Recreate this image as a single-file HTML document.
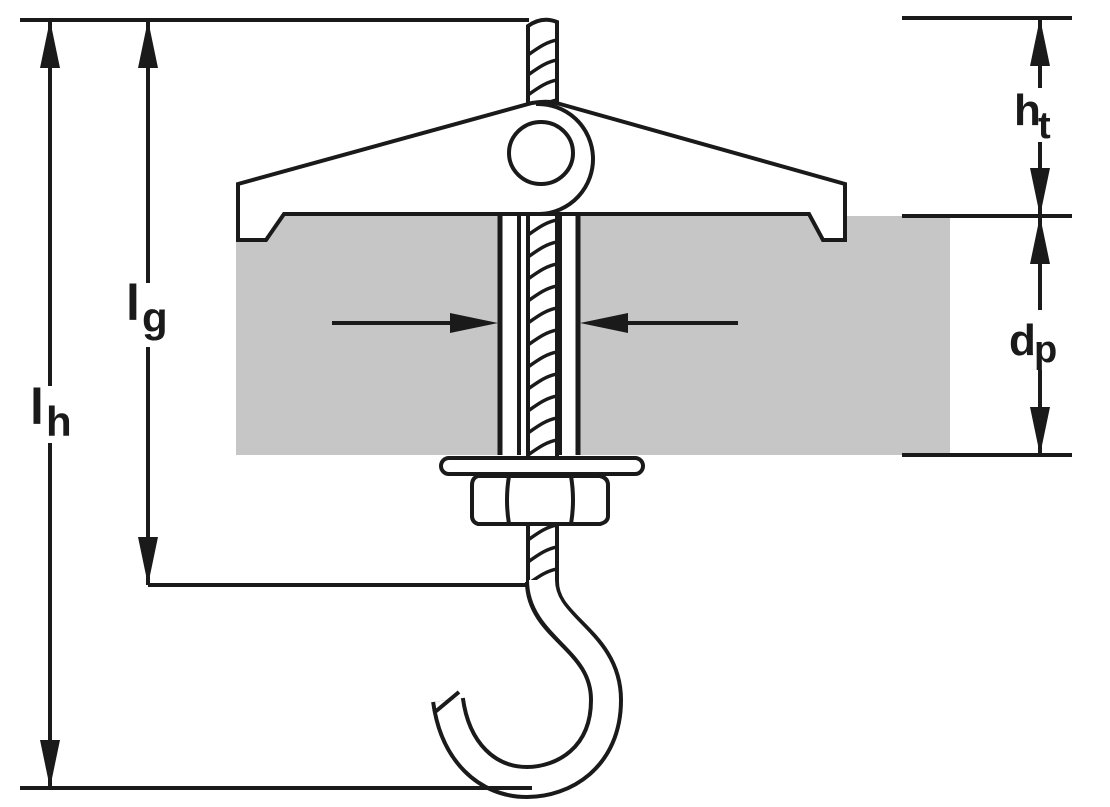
<!DOCTYPE html>
<html><head><meta charset="utf-8"><style>html,body{margin:0;padding:0;background:#fff}svg{display:block}</style></head>
<body>
<svg width="1110" height="807" viewBox="0 0 1110 807" xmlns="http://www.w3.org/2000/svg" font-family="'Liberation Sans',sans-serif" font-weight="bold">
<defs>
<clipPath id="rc"><rect x="529" y="0" width="28" height="800"/></clipPath>
</defs>
<!-- gray plate -->
<rect x="236" y="216" width="714" height="239" fill="#c6c6c6"/>
<!-- sleeve hole -->
<rect x="500" y="214" width="78" height="241" fill="#fff" stroke="#1a1a1a" stroke-width="0"/>
<line x1="500" y1="214" x2="500" y2="455" stroke="#1a1a1a" stroke-width="5"/>
<line x1="578" y1="214" x2="578" y2="455" stroke="#1a1a1a" stroke-width="5"/>
<line x1="519" y1="214" x2="519" y2="455" stroke="#1a1a1a" stroke-width="4"/>
<line x1="560" y1="214" x2="560" y2="455" stroke="#1a1a1a" stroke-width="4"/>
<!-- rod -->
<path d="M528,585 L528,26 Q542,16 557,22 L557,585 Z" fill="#fff" stroke="#1a1a1a" stroke-width="4"/>
<g clip-path="url(#rc)" stroke="#1a1a1a" stroke-width="3.5" fill="none">
<path d="M528,55 C538,48 546,42 557,40 M528,75 C538,68 546,62 557,60 M528,95 C538,88 546,82 557,80 M528,115 C538,108 546,102 557,100
M528,235 C538,228 546,222 557,220 M528,257 C538,250 546,244 557,242 M528,279 C538,272 546,266 557,264 M528,301 C538,294 546,288 557,286 M528,323 C538,316 546,310 557,308 M528,345 C538,338 546,332 557,330 M528,367 C538,360 546,354 557,352 M528,389 C538,382 546,376 557,374 M528,411 C538,404 546,398 557,396 M528,433 C538,426 546,420 557,418 M528,455 C538,448 546,442 557,440
M528,540 C538,533 546,527 557,525 M528,562 C538,555 546,549 557,547 M528,584 C538,577 546,571 557,569"/>
</g>
<!-- toggle wing -->
<path d="M238,184 L532,103 Q548,100 560,104 L845,184 L845,240 L823,240 L809,214 L284,214 L266,240 L238,240 Z" fill="#fff" stroke="#1a1a1a" stroke-width="4" stroke-linejoin="miter"/>
<path d="M536,104 A55,55 0 0 1 540,214" fill="none" stroke="#1a1a1a" stroke-width="4"/>
<ellipse cx="541" cy="153" rx="32" ry="31" fill="#fff" stroke="#1a1a1a" stroke-width="4"/>
<!-- washer -->
<rect x="441" y="458" width="202" height="16" rx="8" fill="#fff" stroke="#1a1a1a" stroke-width="4"/>
<!-- nut -->
<path d="M478,476 L600,476 Q608,478 608,485 L608,516 Q608,522 600,524 L478,524 Q472,522 472,516 L472,485 Q472,478 478,476 Z" fill="#fff" stroke="#1a1a1a" stroke-width="4"/>
<path d="M509,476 Q505,500 509,524 M571,476 Q575,500 571,524" fill="none" stroke="#1a1a1a" stroke-width="4"/>
<!-- hook -->
<path d="M542,582 C542,628 606,640 606,700 C606,758 563,782 527,782 C487,782 455,752 448,700" fill="none" stroke="#1a1a1a" stroke-width="34"/>
<path d="M542,580 C542,628 606,640 606,700 C606,758 563,782 527,782 C487,782 455,752 448,700" fill="none" stroke="#fff" stroke-width="26"/>
<path d="M435,712 L459,692" stroke="#1a1a1a" stroke-width="4"/>
<!-- dimension lines -->
<g stroke="#1a1a1a" stroke-width="4" fill="none">
<line x1="20" y1="20" x2="529" y2="20"/>
<line x1="20" y1="788" x2="532" y2="788"/>
<line x1="50" y1="20" x2="50" y2="386"/>
<line x1="50" y1="443" x2="50" y2="788"/>
<line x1="148" y1="20" x2="148" y2="283"/>
<line x1="148" y1="347" x2="148" y2="585"/>
<line x1="148" y1="585" x2="529" y2="585"/>
<line x1="902" y1="18" x2="1072" y2="18"/>
<line x1="902" y1="216" x2="1072" y2="216"/>
<line x1="902" y1="455" x2="1072" y2="455"/>
<line x1="1040" y1="18" x2="1040" y2="88"/>
<line x1="1040" y1="142" x2="1040" y2="216"/>
<line x1="1040" y1="216" x2="1040" y2="310"/>
<line x1="1040" y1="370" x2="1040" y2="455"/>
<line x1="332" y1="323" x2="470" y2="323"/>
<line x1="610" y1="323" x2="738" y2="323"/>
</g>
<g fill="#1a1a1a">
<path d="M50,20 L40,68 L60,68 Z"/><path d="M50,788 L40,740 L60,740 Z"/>
<path d="M148,20 L138,68 L158,68 Z"/><path d="M148,585 L138,537 L158,537 Z"/>
<path d="M1040,18 L1030,66 L1050,66 Z"/><path d="M1040,216 L1030,168 L1050,168 Z"/>
<path d="M1040,216 L1030,264 L1050,264 Z"/><path d="M1040,455 L1030,407 L1050,407 Z"/>
<path d="M498,323 L450,313 L450,333 Z"/><path d="M580,323 L628,313 L628,333 Z"/>
</g>
<!-- labels -->
<g fill="#1a1a1a">
<text x="30" y="424" font-size="50">l</text><text x="46" y="436" font-size="42">h</text>
<text x="126" y="320" font-size="50">l</text><text x="142" y="332" font-size="42">g</text>
<text x="1014" y="125" font-size="44">h</text><text x="1038" y="138" font-size="38">t</text>
<text x="1009" y="355" font-size="44">d</text><text x="1034" y="362" font-size="38">p</text>
</g>
</svg>
</body></html>
